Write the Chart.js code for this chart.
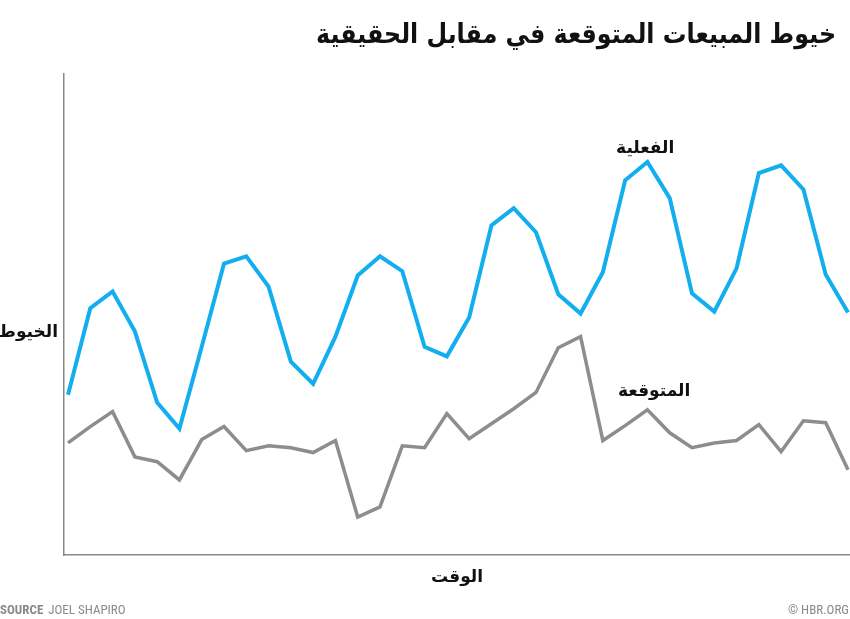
<!DOCTYPE html>
<html>
<head>
<meta charset="utf-8">
<script src="https://cdn.jsdelivr.net/npm/chart.js@4"></script>
<style>
  html, body { margin: 0; padding: 0; background: #fff; }
  #wrap { width: 850px; height: 619px; position: relative; }
</style>
</head>
<body>
<div id="wrap"><canvas id="salesChart" width="850" height="619"></canvas></div>
<script>
// periods (time axis, no tick labels in the original)
const periods = Array.from({length: 36}, (_, i) => i);

// actual sales leads (blue)
const actual = [33.3, 51.3, 54.8, 46.5, 31.7, 26.3, 43.3, 60.6, 62.1, 55.8, 40.2, 35.6,
  45.4, 58.1, 62.1, 59.0, 43.3, 41.3, 49.4, 68.5, 72.1, 67.1, 54.2, 50.2,
  58.8, 77.9, 81.7, 74.2, 54.4, 50.6, 59.6, 79.4, 81.0, 76.0, 58.3, 50.4];

// forecast sales leads (gray)
const forecast = [23.3, 26.7, 29.8, 20.4, 19.4, 15.6, 24.0, 26.7, 21.7, 22.7, 22.3, 21.3,
  23.8, 7.9, 10.0, 22.7, 22.3, 29.4, 24.2, 27.3, 30.4, 33.8, 43.1, 45.4,
  23.8, 26.9, 30.2, 25.4, 22.3, 23.3, 23.8, 27.1, 21.5, 27.9, 27.5, 17.7];

const arabicFont = '"DejaVu Sans", sans-serif';

// Title, axis names, series names, footer
const textPlugin = {
  id: 'texts',
  afterDraw(chart) {
    const ctx = chart.ctx;
    ctx.save();
    ctx.fillStyle = '#111';
    ctx.direction = 'rtl';

    // title: condensed look by squeezing horizontally
    ctx.save();
    ctx.font = 'bold 27px ' + arabicFont;
    ctx.textAlign = 'right';
    ctx.translate(836, 43);
    ctx.scale(0.88, 1);
    ctx.fillText('خيوط المبيعات المتوقعة في مقابل الحقيقية', 0, 0);
    ctx.restore();

    ctx.font = 'bold 17px ' + arabicFont;
    ctx.textAlign = 'right';
    ctx.fillText('الخيوط', 58, 337);

    ctx.textAlign = 'center';
    ctx.fillText('الوقت', 457, 582);

    // series labels near their lines
    const xs = chart.scales.x, ys = chart.scales.y;
    ctx.fillText('الفعلية', xs.getPixelForValue(25.9), ys.getPixelForValue(83.5));
    ctx.fillText('المتوقعة', xs.getPixelForValue(26.3), ys.getPixelForValue(33));

    // footer
    ctx.direction = 'ltr';
    ctx.fillStyle = '#8a8a8a';
    ctx.textAlign = 'left';
    ctx.font = 'bold 13px "Roboto Condensed", "Liberation Sans Narrow", Roboto, sans-serif';
    ctx.fillText('SOURCE', 0, 614);
    const w = ctx.measureText('SOURCE ').width;
    ctx.font = '13px "Roboto Condensed", "Liberation Sans Narrow", Roboto, sans-serif';
    ctx.fillText('JOEL SHAPIRO', w + 2, 614);
    ctx.textAlign = 'right';
    ctx.fillText('© HBR.ORG', 849, 614);
    ctx.restore();
  }
};

new Chart(document.getElementById('salesChart'), {
  type: 'line',
  data: {
    datasets: [{
      label: 'الفعلية',
      data: actual.map((v, i) => ({x: periods[i], y: v})),
      borderColor: '#12aeef',
      borderWidth: 4,
      pointRadius: 0,
      tension: 0
    }, {
      label: 'المتوقعة',
      data: forecast.map((v, i) => ({x: periods[i], y: v})),
      borderColor: '#8d8d8d',
      borderWidth: 3.5,
      pointRadius: 0,
      tension: 0
    }]
  },
  options: {
    responsive: false,
    animation: false,
    layout: {padding: {left: 56, top: 74, right: 0, bottom: 56}},
    plugins: {legend: {display: false}, tooltip: {enabled: false}},
    scales: {
      x: {
        type: 'linear', min: -0.18, max: 35.09,
        grid: {display: false},
        ticks: {display: false},
        border: {color: '#888', width: 1.5}
      },
      y: {
        min: 0, max: 100,
        grid: {display: false},
        ticks: {display: false},
        border: {color: '#888', width: 1.5}
      }
    }
  },
  plugins: [textPlugin]
});
</script>
</body>
</html>
